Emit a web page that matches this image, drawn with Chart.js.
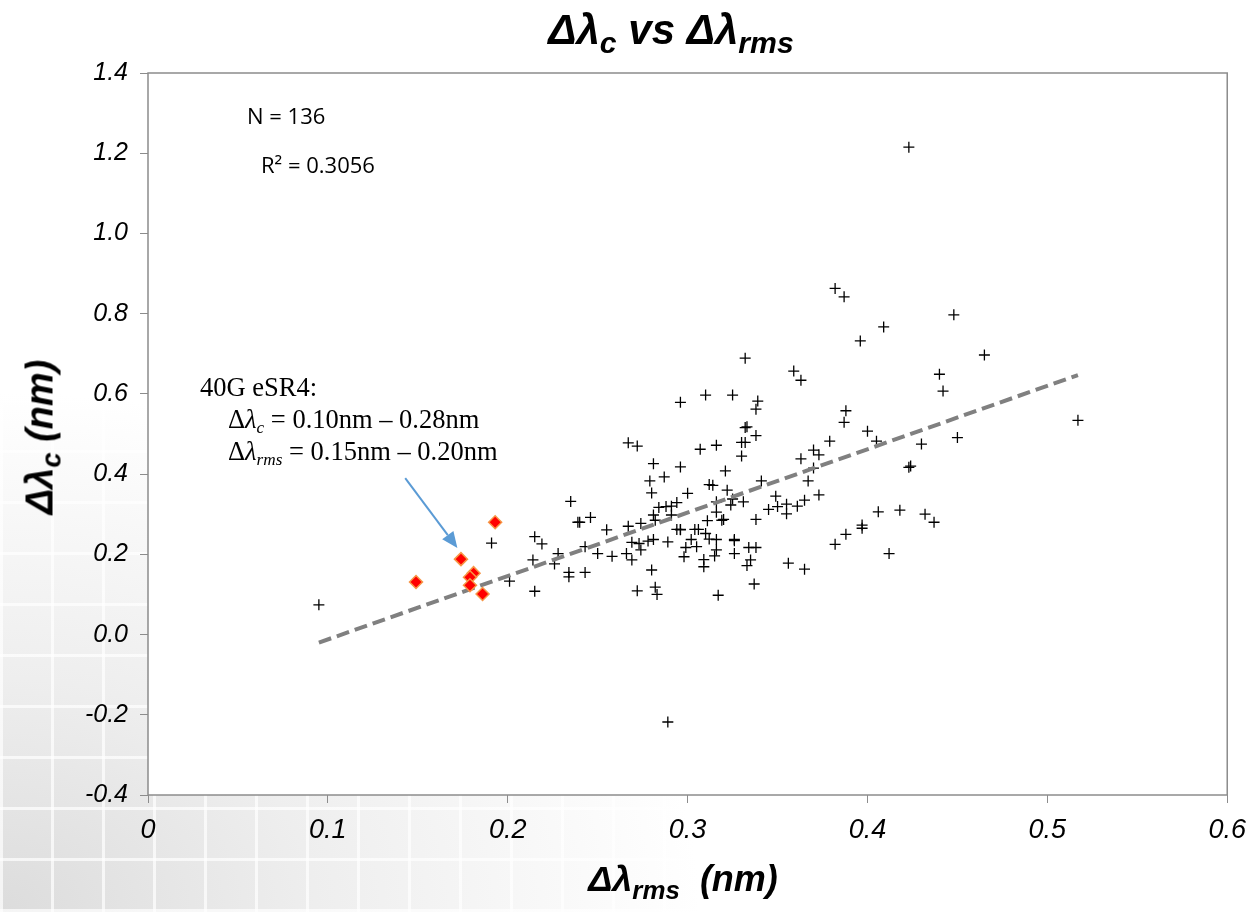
<!DOCTYPE html>
<html>
<head>
<meta charset="utf-8">
<script src="https://cdn.jsdelivr.net/npm/chart.js@4.4.0/dist/chart.umd.min.js"></script>
<style>
  html, body { margin:0; padding:0; }
  body {
    width:1257px; height:912px; overflow:hidden; position:relative;
    background:
      repeating-linear-gradient(90deg, rgba(255,255,255,0.7) 0 3px, transparent 3px 51px),
      repeating-linear-gradient(0deg, rgba(255,255,255,0.7) 0 3px, transparent 3px 51px),
      radial-gradient(ellipse 700px 520px at 0% 100%, #dcdcdc 0%, #eeeeee 45%, #ffffff 100%);
  }
  #wrap { position:absolute; left:0; top:0; width:1257px; height:912px; }
  .txt { position:absolute; white-space:nowrap; color:#000; }
  .title { font-family:"Liberation Sans",Arial,sans-serif; font-weight:bold; font-style:italic; }
  .title sub { font-size:72%; vertical-align:-0.3em; line-height:0; }
  .serif { font-family:"Liberation Serif","Times New Roman",serif; font-size:26.5px; }
  .serif sub { font-size:65%; vertical-align:-0.3em; line-height:0; }
  .cal { font-family:"Open Sans","Liberation Sans",sans-serif; font-size:22px; }
</style>
</head>
<body>
<div id="wrap"><canvas id="grafico"></canvas></div>

<div class="txt title" style="left:671px;top:6px;font-size:42px;transform:translateX(-50%);">Δλ<sub>c</sub> vs Δλ<sub>rms</sub></div>
<div class="txt title" style="left:40px;top:437px;font-size:38px;transform:translate(-50%,-50%) rotate(-90deg);">Δλ<sub>c</sub> (nm)</div>
<div class="txt title" style="left:683px;top:858px;font-size:36px;transform:translateX(-50%);">Δλ<sub>rms</sub>&nbsp; (nm)</div>

<div class="txt cal" style="left:247px;top:100px;">N = 136</div>
<div class="txt cal" style="left:261px;top:149px;">R² = 0.3056</div>

<div class="txt serif" style="left:200px;top:372px;">40G eSR4:</div>
<div class="txt serif" style="left:228px;top:404px;">Δ<i>λ</i><sub><i>c</i></sub> = 0.10nm – 0.28nm</div>
<div class="txt serif" style="left:228px;top:436px;">Δ<i>λ</i><sub><i>rms</i></sub> = 0.15nm – 0.20nm</div>

<script>
// dati: Δλrms (x) e Δλc (y)
var crossX = [0.332,0.296,0.310,0.325,0.332,0.333,0.330,0.332,0.330,0.267,0.272,0.307,0.316,0.321,0.281,0.296,0.279,0.287,0.280,0.300,
  0.312,0.314,0.322,0.235,0.239,0.240,0.246,0.215,0.219,0.228,0.214,0.226,0.215,0.234,0.234,0.243,0.255,0.243,0.250,0.258,
  0.266,0.269,0.267,0.274,0.269,0.273,0.274,0.278,0.281,0.289,0.281,0.282,0.284,0.288,0.291,0.294,0.291,0.280,0.272,0.282,
  0.283,0.294,0.296,0.296,0.302,0.304,0.306,0.299,0.305,0.298,0.309,0.309,0.310,0.311,0.316,0.316,0.312,0.316,0.316,0.315,
  0.319,0.320,0.324,0.325,0.331,0.326,0.326,0.326,0.333,0.317,0.201,
  0.382,0.387,0.448,0.409,0.396,0.465,0.359,0.363,0.440,0.442,0.339,0.338,0.388,0.387,0.517,0.338,0.379,0.400,0.405,0.450,
  0.430,0.370,0.373,0.363,0.370,0.423,0.424,0.341,0.367,0.349,0.373,0.365,0.345,0.350,0.355,0.355,0.361,0.338,0.406,0.418,
  0.432,0.437,0.397,0.397,0.388,0.382,0.412,0.334,0.338,0.335,0.356,0.365,0.337,
  0.423,0.289,0.095,0.191];
var crossY = [0.689,0.579,0.597,0.597,0.516,0.518,0.479,0.479,0.445,0.478,0.470,0.462,0.472,0.408,0.426,0.418,0.383,0.393,0.353,0.352,
  0.374,0.372,0.360,0.332,0.280,0.280,0.292,0.244,0.226,0.202,0.186,0.176,0.108,0.155,0.144,0.155,0.261,0.219,0.202,0.195,
  0.202,0.186,0.270,0.277,0.230,0.227,0.211,0.233,0.237,0.231,0.298,0.285,0.317,0.319,0.320,0.329,0.298,0.161,0.109,0.118,
  0.100,0.262,0.262,0.261,0.237,0.262,0.262,0.217,0.219,0.194,0.187,0.169,0.252,0.284,0.305,0.331,0.238,0.237,0.211,0.196,
  0.285,0.287,0.323,0.338,0.331,0.237,0.234,0.202,0.172,0.098,0.133,
  0.863,0.842,0.797,0.767,0.732,0.697,0.657,0.634,0.649,0.607,0.582,0.562,0.558,0.529,0.534,0.496,0.482,0.507,0.482,0.491,
  0.475,0.460,0.448,0.438,0.415,0.417,0.420,0.383,0.383,0.345,0.348,0.335,0.312,0.319,0.325,0.301,0.320,0.287,0.306,0.310,
  0.300,0.280,0.273,0.265,0.250,0.225,0.202,0.217,0.217,0.186,0.178,0.163,0.126,
  1.215,-0.218,0.074,0.228];

// campioni 40G eSR4
var eSR4X = [0.193,0.174,0.149,0.181,0.179,0.179,0.186];
var eSR4Y = [0.280,0.188,0.131,0.153,0.143,0.123,0.101];

// linea di tendenza (estremi)
var trendX = [0.095, 0.517];
var trendY = [-0.020, 0.647];

// freccia dell'annotazione, in coordinate dati
var arrowX = [0.143, 0.172];
var arrowY = [0.390, 0.216];

function punti(xs, ys){
  var out = [];
  for (var i = 0; i < xs.length; i++) out.push({x: xs[i], y: ys[i]});
  return out;
}

var sfondoArea = {
  id: 'sfondoArea',
  beforeDraw: function(chart){
    var a = chart.chartArea, ctx = chart.ctx;
    ctx.save();
    ctx.fillStyle = '#ffffff';
    ctx.fillRect(a.left, a.top, a.right - a.left, a.bottom - a.top);
    ctx.restore();
  },
  afterDraw: function(chart){
    var a = chart.chartArea, ctx = chart.ctx;
    ctx.save();
    ctx.strokeStyle = '#8c8c8c';
    ctx.lineWidth = 1.5;
    ctx.strokeRect(a.left, a.top, a.right - a.left, a.bottom - a.top);
    ctx.restore();
  }
};

var freccia = {
  id: 'freccia',
  afterDatasetsDraw: function(chart){
    var sx = chart.scales.x, sy = chart.scales.y, ctx = chart.ctx;
    var x0 = sx.getPixelForValue(arrowX[0]), y0 = sy.getPixelForValue(arrowY[0]);
    var x1 = sx.getPixelForValue(arrowX[1]), y1 = sy.getPixelForValue(arrowY[1]);
    var ang = Math.atan2(y1 - y0, x1 - x0);
    var len = 16, w = 7;
    ctx.save();
    ctx.strokeStyle = '#5b9bd5';
    ctx.fillStyle = '#5b9bd5';
    ctx.lineWidth = 2;
    ctx.beginPath();
    ctx.moveTo(x0, y0);
    ctx.lineTo(x1 - Math.cos(ang) * len, y1 - Math.sin(ang) * len);
    ctx.stroke();
    ctx.beginPath();
    ctx.moveTo(x1, y1);
    ctx.lineTo(x1 - Math.cos(ang) * len + Math.sin(ang) * w, y1 - Math.sin(ang) * len - Math.cos(ang) * w);
    ctx.lineTo(x1 - Math.cos(ang) * len - Math.sin(ang) * w, y1 - Math.sin(ang) * len + Math.cos(ang) * w);
    ctx.closePath();
    ctx.fill();
    ctx.restore();
  }
};

var canvas = document.getElementById('grafico');
canvas.width = 1257; canvas.height = 912;

var chart = new Chart(canvas, {
  type: 'scatter',
  data: {
    datasets: [
      {
        label: '40G eSR4',
        data: punti(eSR4X, eSR4Y),
        pointStyle: 'rectRot',
        pointRadius: 6.5,
        backgroundColor: '#ff0000',
        borderColor: '#f79646',
        borderWidth: 1.5,
        order: 0
      },
      {
        label: 'trend',
        data: punti(trendX, trendY),
        showLine: true,
        borderColor: '#808080',
        borderWidth: 4,
        borderDash: [13, 6],
        pointRadius: 0,
        order: 1
      },
      {
        label: 'campioni',
        data: punti(crossX, crossY),
        pointStyle: 'cross',
        pointRadius: 5.5,
        borderColor: '#000000',
        borderWidth: 1.3,
        order: 2
      }
    ]
  },
  plugins: [sfondoArea, freccia],
  options: {
    responsive: false,
    animation: false,
    devicePixelRatio: 1,
    layout: { padding: { left: 0, right: 24, top: 73, bottom: 0 } },
    plugins: { legend: { display: false }, tooltip: { enabled: false }, title: { display: false } },
    scales: {
      x: {
        type: 'linear',
        min: 0, max: 0.6,
        afterFit: function(s){ s.height = 117; },
        border: { display: false },
        grid: { drawOnChartArea: false, drawTicks: true, tickLength: 8, color: '#8c8c8c', lineWidth: 1 },
        ticks: {
          stepSize: 0.1,
          padding: 11,
          color: '#000',
          font: { family: '"Liberation Sans Narrow","Liberation Sans",Arial,sans-serif', size: 27, style: 'italic' },
          callback: function(v){ return Math.abs(v) < 1e-9 ? '0' : v.toFixed(1); }
        }
      },
      y: {
        type: 'linear',
        min: -0.4, max: 1.4,
        afterFit: function(s){ s.width = 148; },
        border: { display: false },
        grid: { drawOnChartArea: false, drawTicks: true, tickLength: 8, color: '#8c8c8c', lineWidth: 1 },
        ticks: {
          stepSize: 0.2,
          padding: 12,
          color: '#000',
          font: { family: '"Liberation Sans",Arial,sans-serif', size: 25, style: 'italic' },
          callback: function(v){ return Math.abs(v) < 1e-9 ? '0.0' : v.toFixed(1); }
        }
      }
    }
  }
});
</script>
</body>
</html>
